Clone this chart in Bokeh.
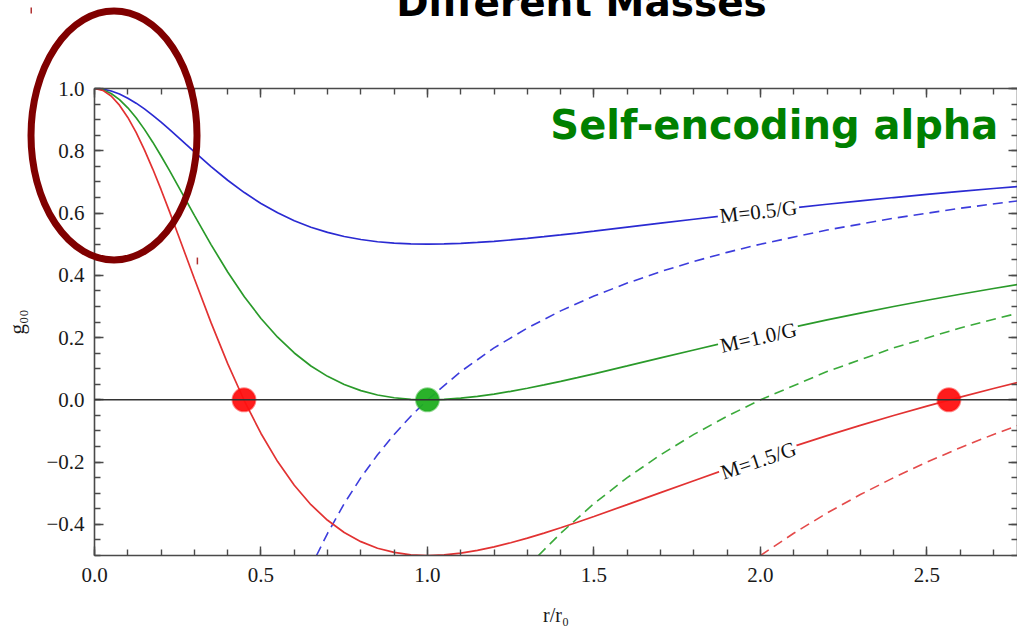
import numpy as np
from bokeh.plotting import figure
from bokeh.models import (Range1d, LinearAxis, FixedTicker, CustomJSTickFormatter,
                          Span, Label)
from bokeh.core.properties import value
from bokeh.embed import file_html
from bokeh.resources import INLINE

# ---------------- data ----------------
r = [0.0, 0.025, 0.05, 0.075, 0.1, 0.125, 0.15, 0.175, 0.2, 0.225, 0.25, 0.275, 0.3,
     0.35, 0.4, 0.45, 0.5, 0.55, 0.6, 0.65, 0.7, 0.75, 0.8, 0.85, 0.9, 0.95, 1.0,
     1.05, 1.1, 1.15, 1.2, 1.25, 1.3, 1.35, 1.4, 1.45, 1.5, 1.6, 1.7, 1.8, 1.9, 2.0,
     2.1, 2.2, 2.3, 2.4, 2.5, 2.6, 2.7, 2.8]

g_m05 = [1.0, 0.9980, 0.9919, 0.9822, 0.9690, 0.9529, 0.9344, 0.9138, 0.8917, 0.8684,
         0.8446, 0.8204, 0.7963, 0.7493, 0.7054, 0.6657, 0.6307, 0.6006, 0.5752, 0.5544,
         0.5377, 0.5247, 0.5149, 0.5078, 0.5033, 0.5008, 0.5000, 0.5007, 0.5026, 0.5055,
         0.5092, 0.5136, 0.5186, 0.5240, 0.5297, 0.5357, 0.5418, 0.5545, 0.5673, 0.5801,
         0.5927, 0.6050, 0.6168, 0.6283, 0.6393, 0.6498, 0.6599, 0.6696, 0.6788, 0.6876]

g_m10 = [1.0, 0.9959, 0.9839, 0.9643, 0.9381, 0.9059, 0.8687, 0.8276, 0.7833, 0.7369,
         0.6891, 0.6408, 0.5925, 0.4986, 0.4108, 0.3313, 0.2613, 0.2011, 0.1505, 0.1088,
         0.0754, 0.0493, 0.0297, 0.0156, 0.0066, 0.0015, 0.0000, 0.0014, 0.0052, 0.0110,
         0.0185, 0.0273, 0.0372, 0.0479, 0.0594, 0.0713, 0.0836, 0.1089, 0.1346, 0.1602,
         0.1854, 0.2099, 0.2337, 0.2566, 0.2786, 0.2997, 0.3199, 0.3392, 0.3576, 0.3753]

g_m15 = [1.0, 0.9939, 0.9758, 0.9465, 0.9071, 0.8588, 0.8031, 0.7413, 0.6750, 0.6053,
         0.5337, 0.4612, 0.3888, 0.2479, 0.1162, -0.0030, -0.1081, -0.1984, -0.2743,
         -0.3368, -0.3869, -0.4260, -0.4555, -0.4766, -0.4901, -0.4977, -0.5000, -0.4980,
         -0.4922, -0.4835, -0.4723, -0.4591, -0.4442, -0.4281, -0.4110, -0.3931, -0.3746,
         -0.3366, -0.2981, -0.2597, -0.2219, -0.1851, -0.1495, -0.1151, -0.0821, -0.0505,
         -0.0202, 0.0088, 0.0365, 0.0629]

# dashed (point-mass) curves
r_d05 = [0.6667, 0.7, 0.75, 0.8, 0.85, 0.9, 0.95, 1.0, 1.1, 1.2, 1.3, 1.4, 1.5, 1.6,
         1.7, 1.8, 1.9, 2.0, 2.2, 2.4, 2.6, 2.8]
g_d05 = [-0.5, -0.4286, -0.3333, -0.25, -0.1765, -0.1111, -0.0526, 0.0, 0.0909, 0.1667,
         0.2308, 0.2857, 0.3333, 0.375, 0.4118, 0.4444, 0.4737, 0.5, 0.5455, 0.5833,
         0.6154, 0.6429]
r_d10 = [1.3333, 1.4, 1.5, 1.6, 1.7, 1.8, 1.9, 2.0, 2.2, 2.4, 2.6, 2.8]
g_d10 = [-0.5, -0.4286, -0.3333, -0.25, -0.1765, -0.1111, -0.0526, 0.0, 0.0909, 0.1667,
         0.2308, 0.2857]
r_d15 = [2.0, 2.1, 2.2, 2.3, 2.4, 2.5, 2.6, 2.7, 2.8]
g_d15 = [-0.5, -0.4286, -0.3636, -0.3043, -0.25, -0.2, -0.1538, -0.1111, -0.0714]

# horizon markers (zero crossings)
dot_r = [0.449, 1.0, 2.566]
dot_g = [0.0, 0.0, 0.0]
dot_color = ["#ff1010", "#1fae1f", "#ff1010"]

curve_labels = ["M=0.5/G", "M=1.0/G", "M=1.5/G"]

x_ticks = [0.0, 0.5, 1.0, 1.5, 2.0, 2.5]
x_tick_labels = ["0.0", "0.5", "1.0", "1.5", "2.0", "2.5"]
y_ticks = [-0.4, -0.2, 0.0, 0.2, 0.4, 0.6, 0.8, 1.0]
y_tick_labels = ["\u22120.4", "\u22120.2", "0.0", "0.2", "0.4", "0.6", "0.8", "1.0"]

# ---------------- figure ----------------
BLUE = "#2a2ad2"
GREEN = "#2a9a2a"
RED = "#e23232"
AXC = "#4a4a4a"
SERIF = "Liberation Serif"

p = figure(width=1017, height=630, x_range=Range1d(0, 2.772), y_range=Range1d(-0.5, 1.0),
           output_backend="svg", toolbar_location=None,
           min_border_left=94, min_border_right=0, min_border_top=88, min_border_bottom=75)
p.xgrid.visible = False
p.ygrid.visible = False
p.outline_line_color = None
p.background_fill_color = "white"
p.border_fill_color = "white"

x_minor = np.round(np.arange(0, 2.81, 0.1), 2).tolist()
y_minor = np.round(np.arange(-0.5, 1.001, 0.05), 2).tolist()

def fmt(tv, lbl):
    return CustomJSTickFormatter(args=dict(tv=tv, lbl=lbl), code="""
        for (let i = 0; i < tv.length; i++) {
            if (Math.abs(tick - tv[i]) < 1e-6) return lbl[i];
        }
        return "";
    """)

def style_axis(ax, show_labels=True):
    ax.axis_line_color = AXC
    ax.axis_line_width = 1.6
    ax.major_tick_line_color = AXC
    ax.minor_tick_line_color = AXC
    ax.major_tick_line_width = 1.4
    ax.minor_tick_line_width = 1.4
    ax.major_tick_in = 9
    ax.major_tick_out = 0
    ax.minor_tick_in = 6
    ax.minor_tick_out = 0
    if show_labels:
        ax.major_label_text_font = SERIF
        ax.major_label_text_font_size = "21px"
        ax.major_label_text_color = "#1a1a1a"
    else:
        ax.major_label_text_font_size = "0px"
        ax.major_label_standoff = 0

xa = p.xaxis[0]
xa.ticker = FixedTicker(ticks=x_ticks, minor_ticks=x_minor)
xa.formatter = fmt(x_ticks, x_tick_labels)
style_axis(xa)
xa.major_label_standoff = 12
xa.axis_label = "r/r\u2080"
xa.axis_label_text_font = SERIF
xa.axis_label_text_font_style = "normal"
xa.axis_label_text_font_size = "20px"
xa.axis_label_text_color = "#1a1a1a"
xa.axis_label_standoff = 19

ya = p.yaxis[0]
ya.ticker = FixedTicker(ticks=y_ticks, minor_ticks=y_minor)
ya.formatter = fmt(y_ticks, y_tick_labels)
style_axis(ya)
ya.major_label_standoff = 10
ya.axis_label = "g\u2080\u2080"
ya.axis_label_text_font = SERIF
ya.axis_label_text_font_style = "normal"
ya.axis_label_text_font_size = "21px"
ya.axis_label_text_color = "#1a1a1a"
ya.axis_label_standoff = 14

top_ax = LinearAxis(ticker=FixedTicker(ticks=x_ticks, minor_ticks=x_minor),
                    formatter=fmt([], []))
style_axis(top_ax, show_labels=False)
p.add_layout(top_ax, "above")
right_ax = LinearAxis(ticker=FixedTicker(ticks=y_ticks, minor_ticks=y_minor),
                      formatter=fmt([], []))
style_axis(right_ax, show_labels=False)
p.add_layout(right_ax, "right")

p.add_layout(Span(location=0, dimension="width", line_color="#333333", line_width=1.5))

# dashed curves
for xs, ys, c in [(r_d05, g_d05, "#3c3cdc"), (r_d10, g_d10, "#3aaa3a"), (r_d15, g_d15, "#e44a4a")]:
    p.line(xs, ys, line_color=c, line_width=1.6, line_dash="10 6")

# solid curves
p.line(r, g_m05, line_color=BLUE, line_width=1.7)
p.line(r, g_m10, line_color=GREEN, line_width=1.7)
p.line(r, g_m15, line_color=RED, line_width=1.7)

# markers
p.scatter(dot_r, dot_g, size=23, fill_color=dot_color, line_color=dot_color,
          fill_alpha=0.95, line_alpha=0.5, line_width=2)

# curve labels (sit on the curves at r ~ 2.0, with a white box that cuts the line)
label_pos = [(1.994, 0.604, 6.4), (1.994, 0.200, 12.7), (1.994, -0.195, 18.7)]
for txt, (lx, ly, ang) in zip(curve_labels, label_pos):
    p.add_layout(Label(x=lx, y=ly, text=txt, angle=np.radians(ang), text_align="center",
                       text_baseline="middle", text_font=SERIF, text_font_size="21px",
                       text_color="#111111", background_fill_color="white", padding=2))

# slide headline (cut off at the top edge, as on the slide) - unclipped overlay glyph
p.text(x=[1.4625], y=[1.2763], text=["Different Masses"], text_align="center",
       text_baseline="alphabetic", text_font=value("DejaVu Sans"),
       text_font_style="bold", text_font_size="39px", text_color="black", level="overlay")
p.add_layout(Label(x=1.369, y=0.8828, text="Self-encoding alpha", text_align="left",
                   text_baseline="alphabetic", text_font="DejaVu Sans",
                   text_font_style="bold", text_font_size="40px", text_color="#008000"))

# highlight ellipse (drawn at overlay level so it is not clipped to the frame)
p.ellipse(x=[0.0586], y=[0.849], width=[166], height=[249], width_units="screen",
          height_units="screen", fill_color=None, line_color="#800000", line_width=7,
          level="overlay")
# two tiny red marks from the slide
p.segment(x0=[-0.190, 0.309], y0=[1.260, 0.457], x1=[-0.190, 0.309],
          y1=[1.241, 0.435], line_color="#b03030", line_width=1.5, level="overlay")

open("out.html", "w").write(file_html(p, INLINE))
